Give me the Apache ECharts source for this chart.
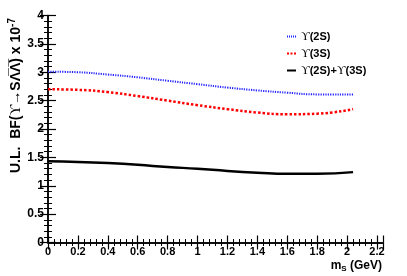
<!DOCTYPE html>
<html><head><meta charset="utf-8">
<script src="https://cdn.jsdelivr.net/npm/echarts@6/dist/echarts.min.js"></script>
<style>html,body{margin:0;padding:0;background:#fff}#c{width:407px;height:276px}</style>
</head><body><div id="c"></div>
<script>
const mass = [0, 0.2, 0.4, 0.6, 0.8, 1.0, 1.2, 1.4, 1.6, 1.8, 2.04];
const y2S = [3.01, 3.00, 2.96, 2.91, 2.85, 2.79, 2.73, 2.68, 2.64, 2.61, 2.61];
const y3S = [2.70, 2.69, 2.65, 2.58, 2.50, 2.42, 2.35, 2.29, 2.26, 2.27, 2.35];
const ySum = [1.43, 1.42, 1.40, 1.37, 1.33, 1.30, 1.26, 1.23, 1.21, 1.21, 1.24];
const seriesNames = ['Y(2S)', 'Y(3S)', 'Y(2S)+Y(3S)'];
const legendLabels = ['{u|ϒ}(2S)', '{u|ϒ}(3S)', '{u|ϒ}(2S)+{u|ϒ}(3S)'];

const pair = (xs, ys) => xs.map((x, i) => [x, ys[i]]);
const F = 'Liberation Sans, Arial, sans-serif';
const XMAX = 2.24;
const icons = [
  'path://M0 0h1v2h-1zM2 0h1v2h-1zM4 0h1v2h-1zM6 0h1v2h-1zM8 0h1v2h-1z',
  'path://M0 0h2v2h-2zM3.5 0h2v2h-2zM7 0h2v2h-2z',
  'path://M0 0h9v2h-9z'
];

const chart = echarts.init(document.getElementById('c'), null, {renderer: 'canvas'});
const baseAxis = {
  axisLine: {show: true, lineStyle: {color: '#000', width: 1.5}},
  splitLine: {show: false},
};
chart.setOption({
  animation: false,
  grid: {left: 48, right: 24, top: 15.5, bottom: 33.5, containLabel: false},
  legend: {
    orient: 'vertical', left: 282, top: 25, itemGap: 4,
    itemWidth: 9, itemHeight: 2,
    data: seriesNames.map((n, i) => ({name: n, icon: icons[i]})),
    formatter: n => legendLabels[seriesNames.indexOf(n)],
    textStyle: {fontFamily: F, fontWeight: 'bold', fontSize: 11, color: '#000', lineHeight: 13,
      rich: {u: {fontFamily: 'Liberation Serif, DejaVu Serif, serif', fontWeight: 'normal', fontSize: 12, color: '#000'}}}
  },
  xAxis: [
    Object.assign({}, baseAxis, {
      type: 'value', min: 0, max: XMAX, interval: 0.2, position: 'bottom',
      axisTick: {show: true, inside: true, length: 7, lineStyle: {color: '#000', width: 1.2}},
      minorTick: {show: true, splitNumber: 5, length: 3.5, lineStyle: {color: '#000', width: 1}},
      axisLabel: {show: true, showMaxLabel: false, margin: 4, fontFamily: F, fontWeight: 'bold', fontSize: 11, color: '#000',
        formatter: v => String(Math.round(v * 10) / 10)}
    }),
    Object.assign({}, baseAxis, {
      type: 'value', min: 0, max: XMAX, interval: 0.2, position: 'top',
      axisTick: {show: true, inside: true, length: 7, lineStyle: {color: '#000', width: 1.2}},
      minorTick: {show: true, splitNumber: 5, length: 3.5, lineStyle: {color: '#000', width: 1}},
      axisLabel: {show: false}
    })
  ],
  yAxis: [
    Object.assign({}, baseAxis, {
      type: 'value', min: 0, max: 4, interval: 0.5, position: 'left',
      axisTick: {show: true, inside: true, length: 8, lineStyle: {color: '#000', width: 1.2}},
      minorTick: {show: true, splitNumber: 5, length: 4, lineStyle: {color: '#000', width: 1}},
      axisLabel: {show: true, margin: 4, fontFamily: F, fontWeight: 'bold', fontSize: 12, color: '#000',
        formatter: v => String(v)}
    }),
    Object.assign({}, baseAxis, {
      type: 'value', min: 0, max: 4, interval: 0.5, position: 'right',
      axisTick: {show: true, inside: true, length: 8, lineStyle: {color: '#000', width: 1.2}},
      minorTick: {show: true, splitNumber: 5, length: 4, lineStyle: {color: '#000', width: 1}},
      axisLabel: {show: false}
    })
  ],
  series: [
    {name: seriesNames[0], type: 'line', smooth: true, symbol: 'none', data: pair(mass, y2S),
     lineStyle: {color: '#2323ff', width: 2, type: [1.2, 1.2]}, itemStyle: {color: '#2323ff'}},
    {name: seriesNames[1], type: 'line', smooth: true, symbol: 'none', data: pair(mass, y3S),
     lineStyle: {color: '#ff0000', width: 2.5, type: [2.5, 2]}, itemStyle: {color: '#ff0000'}},
    {name: seriesNames[2], type: 'line', smooth: true, symbol: 'none', data: pair(mass, ySum),
     lineStyle: {color: '#000', width: 2.5, type: 'solid'}, itemStyle: {color: '#000'}}
  ],
  graphic: [
    {type: 'text', x: 16, y: 18, rotation: Math.PI / 2,
     style: {text: '{b|U.L.  BF(}{u|ϒ}{b|→SΛ̅Λ̅) x 10}{s|-7}', align: 'right', verticalAlign: 'middle',
       rich: {
         b: {fontFamily: F, fontWeight: 'bold', fontSize: 14, fill: '#000', color: '#000'},
         u: {fontFamily: 'Liberation Serif, DejaVu Serif, serif', fontSize: 15, fill: '#000', color: '#000'},
         s: {fontFamily: F, fontWeight: 'bold', fontSize: 10, fill: '#000', color: '#000', verticalAlign: 'top', padding: [0, 0, 8, 0]}
       }}},
    {type: 'text', x: 382, y: 266,
     style: {text: '{b|m}{s|S}{b| (GeV)}', align: 'right', verticalAlign: 'middle',
       rich: {
         b: {fontFamily: F, fontWeight: 'bold', fontSize: 12, fill: '#000', color: '#000'},
         s: {fontFamily: F, fontWeight: 'bold', fontSize: 8, fill: '#000', color: '#000', padding: [6, 0, 0, 0]}
       }}}
  ]
});
</script></body></html>
